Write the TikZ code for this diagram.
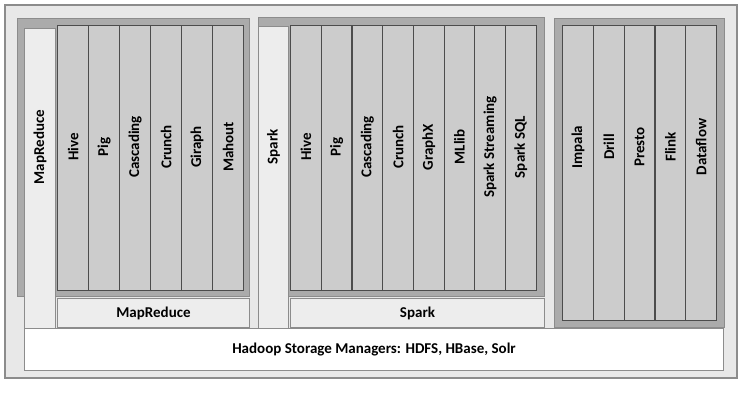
\documentclass[tikz,border=0pt]{standalone}
\usepackage{fontspec}
\setmainfont{Carlito}
\begin{document}
\begin{tikzpicture}[x=1pt,y=-1pt,
  panel/.style={fill=black!33,draw=black!45,line width=1pt},
  light/.style={fill=black!7,draw=black!45,line width=1pt},
  col/.style={fill=black!20,draw=black!70,line width=1.2pt},
  lbl/.style={font=\bfseries\fontsize{15}{17}\selectfont,rotate=90,inner sep=0}]
\useasboundingbox (0,0) rectangle (742,402);
\fill[white] (0,0) rectangle (742,402);
\draw[fill=black!9,draw=black!45,line width=1.2pt] (5,5) rectangle (737,378);
% group 1
\draw[panel] (17,18) rectangle (249,296);
\node[light,minimum width=31,minimum height=300,anchor=north west] (mrv) at (24,28) {};
\node[lbl] at (mrv.center |- 0,147) {MapReduce};
\foreach \t [count=\i from 0] in {Hive,Pig,Cascading,Crunch,Giraph,Mahout}{
  \node[col,minimum width=31,minimum height=265,anchor=north west] (a\i) at (57+31*\i,25) {};
  \node[lbl] at (a\i.center |- 0,147) {\t};}
\node[light,minimum width=192,minimum height=29,anchor=north west,font=\bfseries\fontsize{15}{17}\selectfont] (mrh) at (57,298) {MapReduce};
% group 2
\draw[panel] (258,17) rectangle (544,296);
\node[light,minimum width=30,minimum height=302,anchor=north west] (spv) at (258,26) {};
\node[lbl] at (spv.center |- 0,147) {Spark};
\foreach \t [count=\i from 0] in {Hive,Pig,Cascading,Crunch,GraphX,MLlib,Spark Streaming,Spark SQL}{
  \node[col,minimum width=30.7,minimum height=265,anchor=north west] (b\i) at (290+30.7*\i,25) {};
  \node[lbl] at (b\i.center |- 0,147) {\t};}
\node[light,minimum width=254,minimum height=29,anchor=north west,font=\bfseries\fontsize{15}{17}\selectfont] (sph) at (290,298) {Spark};
% group 3
\draw[panel] (554,18) rectangle (724,327);
\foreach \t [count=\i from 0] in {Impala,Drill,Presto,Flink,Dataflow}{
  \node[col,minimum width=30.8,minimum height=295,anchor=north west] (c\i) at (562+30.8*\i,25) {};
  \node[lbl] at (c\i.center |- 0,147) {\t};}
% storage
\node[draw=black!45,line width=1pt,fill=white,minimum width=699,minimum height=42,anchor=north west,font=\bfseries\fontsize{15}{17}\selectfont] (st) at (24,328) {Hadoop Storage Managers: HDFS, HBase, Solr};
\end{tikzpicture}
\end{document}
